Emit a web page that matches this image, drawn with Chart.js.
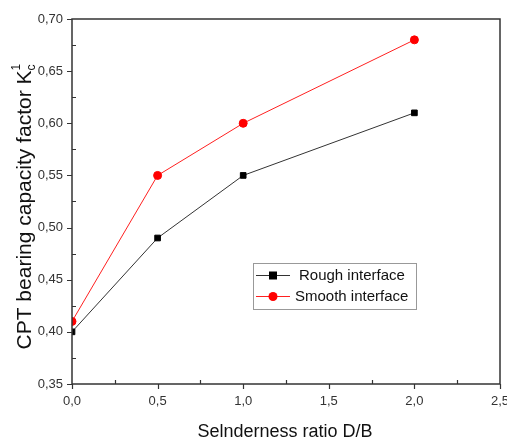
<!DOCTYPE html>
<html>
<head>
<meta charset="utf-8">
<script src="https://cdn.jsdelivr.net/npm/chart.js@4"></script>
<style>
  html, body { margin: 0; padding: 0; background: #fff; }
  #wrap { width: 507px; height: 444px; }
</style>
</head>
<body>
<div id="wrap"><canvas id="chart"></canvas></div>
<script>
// data
const ratioDB = [0, 0.5, 1, 2];
const roughK = [0.40, 0.49, 0.55, 0.61];
const smoothK = [0.41, 0.55, 0.60, 0.68];
const seriesNames = ['Rough interface', 'Smooth interface'];
const xTitle = 'Selnderness ratio D/B';
const yTitle = 'CPT bearing capacity factor K';

const comma = (v, d) => v.toFixed(d).replace('.', ',');
const toPts = ys => ratioDB.map((x, i) => ({ x, y: ys[i] }));

/* frame, ticks, titles, legend */
const decor = {
  id: 'decor',
  afterDraw(chart) {
    const { ctx, chartArea: a, scales: { x, y } } = chart;
    ctx.save();
    ctx.strokeStyle = '#333';
    ctx.lineWidth = 1.5;
    ctx.strokeRect(a.left, a.top, a.right - a.left, a.bottom - a.top);

    ctx.lineWidth = 1.2;
    ctx.beginPath();
    for (let v = 0; v <= 2.501; v += 0.25) {
      const px = Math.round(x.getPixelForValue(v)) + 0.5;
      const major = Math.abs(v * 2 - Math.round(v * 2)) < 1e-6;
      ctx.moveTo(px, a.bottom);
      ctx.lineTo(px, major ? a.bottom + 5 : a.bottom - 4);
    }
    for (let v = 0.35; v <= 0.7001; v += 0.025) {
      const py = Math.round(y.getPixelForValue(v)) + 0.5;
      const major = Math.abs(v * 20 - Math.round(v * 20)) < 1e-6;
      ctx.moveTo(a.left, py);
      ctx.lineTo(major ? a.left - 5 : a.left + 4, py);
    }
    ctx.stroke();

    // axis titles
    ctx.fillStyle = '#111';
    ctx.font = '18px "Liberation Sans", Arial, sans-serif';
    ctx.textAlign = 'center';
    ctx.textBaseline = 'alphabetic';
    ctx.fillText(xTitle, 285, 437);

    ctx.translate(31, 205);
    ctx.rotate(-Math.PI / 2);
    ctx.font = '21px "Liberation Sans", Arial, sans-serif';
    const w = ctx.measureText(yTitle).width;
    ctx.textAlign = 'left';
    ctx.fillText(yTitle, -w / 2 - 5, 0);
    ctx.font = '12px "Liberation Sans", Arial, sans-serif';
    ctx.fillText('c', w / 2 - 5, 4);
    ctx.fillText('1', w / 2 - 5, -11);
    ctx.setTransform(1, 0, 0, 1, 0, 0);

    // legend
    const lx = 253, ly = 263, lw = 163, lh = 46;
    ctx.strokeStyle = '#999';
    ctx.lineWidth = 1;
    ctx.strokeRect(lx + 0.5, ly + 0.5, lw, lh);
    ctx.font = '15px "Liberation Sans", Arial, sans-serif';
    ctx.textBaseline = 'middle';
    chart.data.datasets.forEach((ds, i) => {
      const cy = ly + 12 + i * 21;
      ctx.strokeStyle = ds.borderColor;
      ctx.lineWidth = 1;
      ctx.beginPath();
      ctx.moveTo(lx + 3, cy + 0.5);
      ctx.lineTo(lx + 37, cy + 0.5);
      ctx.stroke();
      ctx.fillStyle = ds.pointBackgroundColor;
      if (ds.pointStyle === 'rect') ctx.fillRect(lx + 16, cy - 3.5, 8, 8);
      else { ctx.beginPath(); ctx.arc(lx + 20, cy + 0.5, 4.5, 0, Math.PI * 2); ctx.fill(); }
      ctx.fillStyle = '#111';
      ctx.fillText(seriesNames[i], lx + (i ? 42 : 46), cy + 1);
    });
    ctx.restore();
  }
};

new Chart(document.getElementById('chart'), {
  type: 'scatter',
  data: {
    datasets: [
      {
        label: seriesNames[0], data: toPts(roughK), showLine: true,
        borderColor: '#333', borderWidth: 1,
        pointStyle: 'rect', pointRadius: 4,
        pointBackgroundColor: '#000', pointBorderColor: '#000'
      },
      {
        label: seriesNames[1], data: toPts(smoothK), showLine: true,
        borderColor: '#ff2020', borderWidth: 1,
        pointStyle: 'circle', pointRadius: 4,
        pointBackgroundColor: '#ff0000', pointBorderColor: '#ff0000'
      }
    ]
  },
  options: {
    responsive: true,
    maintainAspectRatio: false,
    animation: false,
    layout: { padding: { top: 19, right: 7, left: 0, bottom: 0 } },
    plugins: { legend: { display: false }, tooltip: { enabled: false } },
    scales: {
      x: {
        type: 'linear', min: 0, max: 2.5,
        grid: { display: false, drawTicks: false },
        border: { display: false },
        afterFit: s => { s.height = 60; s.paddingLeft = 0; s.paddingRight = 0; },
        ticks: {
          stepSize: 0.5, padding: 10, color: '#333',
          font: { size: 13, family: '"Liberation Sans", Arial, sans-serif' },
          callback: v => comma(v, 1)
        }
      },
      y: {
        min: 0.35, max: 0.70,
        grid: { display: false, drawTicks: false },
        border: { display: false },
        afterFit: s => { s.width = 72; s.paddingTop = 0; s.paddingBottom = 0; },
        ticks: {
          stepSize: 0.05, padding: 9, color: '#333',
          font: { size: 13, family: '"Liberation Sans", Arial, sans-serif' },
          callback: v => comma(v, 2)
        }
      }
    }
  },
  plugins: [decor]
});
</script>
</body>
</html>
